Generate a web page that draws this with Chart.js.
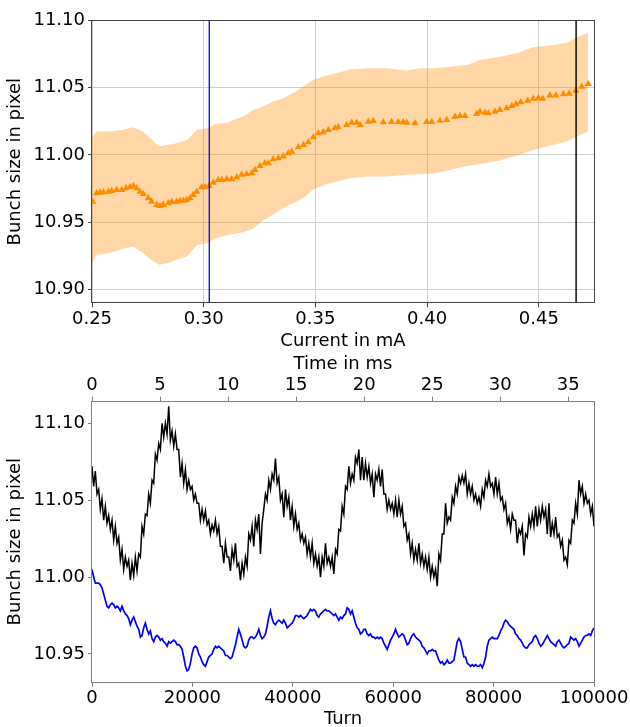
<!DOCTYPE html>
<html>
<head>
<meta charset="utf-8">
<script src="https://cdn.jsdelivr.net/npm/chart.js"></script>
<style>
  html, body { margin: 0; padding: 0; background: #fff; overflow: hidden; }
  #wrap { position: relative; width: 630px; height: 727px; overflow: hidden; }
  canvas { position: absolute; left: 0; }
  #topChart { top: 0; }
  #bottomChart { top: 352px; }
</style>
</head>
<body>
<div id="wrap">
  <canvas id="topChart" width="630" height="352"></canvas>
  <canvas id="bottomChart" width="630" height="390"></canvas>
</div>
<script>
/* ---------- top plot: bunch size vs current ---------- */
var meanCurrent = [0.2503,0.2521,0.2536,0.2551,0.2573,0.2588,0.2610,0.2633,0.2652,0.2670,0.2685,0.2700,0.2715,0.2730,0.2752,0.2767,0.2790,0.2804,0.2819,0.2842,0.2857,0.2879,0.2894,0.2909,0.2924,0.2939,0.2953,0.2969,0.2991,0.3006,0.3024,0.3043,0.3065,0.3081,0.3103,0.3125,0.3148,0.3170,0.3192,0.3215,0.3230,0.3252,0.3274,0.3289,
  0.3311,0.3334,0.3356,0.3379,0.3394,0.3423,0.3446,0.3468,0.3491,0.3513,0.3535,0.3558,0.3588,0.3602,0.3640,0.3662,0.3685,0.3700,0.3737,0.3759,0.3804,0.3841,0.3871,0.3893,0.3909,0.3946,0.3998,0.4021,
  0.4058,0.4088,0.4125,0.4147,0.4170,0.4222,0.4237,0.4259,0.4274,0.4304,0.4326,0.4356,0.4379,0.4398,0.4419,0.4450,0.4475,0.4498,0.4517,0.4550,0.4577,0.4610,0.4636,0.4666,0.4692,0.4721];
var meanSize = [10.9654,10.9716,10.9721,10.9724,10.9728,10.9733,10.9741,10.9741,10.9753,10.9761,10.9770,10.9753,10.9728,10.9711,10.9679,10.9654,10.9630,10.9622,10.9630,10.9642,10.9652,10.9654,10.9659,10.9661,10.9667,10.9679,10.9704,10.9728,10.9761,10.9761,10.9770,10.9795,10.9815,10.9815,10.9820,10.9820,10.9835,10.9854,10.9857,10.9864,10.9889,10.9918,10.9938,10.9938,
  10.9968,10.9976,10.9988,11.0013,11.0024,11.0057,11.0074,11.0094,11.0131,11.0161,11.0168,11.0185,11.0198,11.0205,11.0222,11.0239,11.0239,11.0222,11.0247,11.0252,11.0242,11.0245,11.0242,11.0242,11.0239,11.0235,11.0245,11.0245,
  11.0254,11.0259,11.0284,11.0289,11.0289,11.0304,11.0321,11.0313,11.0309,11.0321,11.0333,11.0346,11.0363,11.0376,11.0391,11.0402,11.0417,11.0420,11.0417,11.0442,11.0442,11.0450,11.0454,11.0476,11.0506,11.0526];

// spread band (upper / lower edge)
var bandCurrent = [0.2500,0.2522,0.2581,0.2634,0.2684,0.2728,0.2764,0.2800,0.2836,0.2880,0.2925,0.2970,0.3015,0.3051,0.3104,0.3140,0.3176,0.3221,0.3265,0.3310,0.3355,0.3400,0.3444,0.3489,0.3543,0.3597,0.3655,0.3731,0.3820,0.3910,0.3968,0.4026,0.4102,0.4179,0.4237,0.4326,0.4402,0.4474,0.4563,0.4626,0.4671,0.4720];
var bandUpper = [11.0136,11.0173,11.0173,11.0185,11.0205,11.0173,11.0119,11.0062,11.0074,11.0087,11.0111,11.0185,11.0198,11.0230,11.0239,11.0263,11.0284,11.0333,11.0358,11.0395,11.0420,11.0457,11.0506,11.0556,11.0585,11.0608,11.0634,11.0642,11.0642,11.0625,11.0642,11.0642,11.0654,11.0667,11.0704,11.0728,11.0754,11.0798,11.0815,11.0832,11.0872,11.0906];
var bandLower = [10.9197,10.9259,10.9272,10.9303,10.9321,10.9272,10.9222,10.9185,10.9197,10.9222,10.9246,10.9333,10.9346,10.9378,10.9407,10.9415,10.9426,10.9452,10.9511,10.9559,10.9604,10.9642,10.9679,10.9741,10.9778,10.9802,10.9827,10.9839,10.9839,10.9852,10.9856,10.9863,10.9889,10.9918,10.9933,10.9959,10.9996,11.0037,11.0074,11.0099,11.0136,11.0173];

var blueMarkCurrent = 0.3025;
var blackMarkCurrent = 0.4667;

var topXMin = 0.25, topXMax = 0.4747;
var topYMin = 10.89, topYMax = 11.10;
var topXTicks = [0.25, 0.30, 0.35, 0.40, 0.45];
var topYTicks = [10.90, 10.95, 11.00, 11.05, 11.10];

/* ---------- bottom plot: bunch size vs turn ---------- */
var turnMax = 100000;
var msMax = 36.89;
var turnTicks = [0, 20000, 40000, 60000, 80000, 100000];
var msTicks = [0, 5, 10, 15, 20, 25, 30, 35];
var botYMin = 10.9313, botYMax = 11.1147;
var botYTicks = [10.95, 11.00, 11.05, 11.10];

var blackSize = [
  11.072,11.059,11.069,11.054,11.057,11.044,11.051,11.037,11.046,11.035,
  11.040,11.031,11.037,11.024,11.033,11.022,11.026,11.011,11.018,11.005,
  11.013,11.007,11.011,10.998,11.009,11.001,11.013,11.004,11.015,11.013,
  11.033,11.028,11.041,11.040,11.054,11.048,11.063,11.061,11.080,11.076,
  11.087,11.083,11.100,11.091,11.100,11.093,11.111,11.089,11.095,11.085,
  11.093,11.083,11.083,11.065,11.074,11.061,11.070,11.057,11.063,11.057,
  11.059,11.050,11.054,11.048,11.048,11.037,11.044,11.037,11.043,11.034,
  11.037,11.028,11.034,11.030,
  11.037,11.028,11.033,11.020,11.020,11.009,11.022,11.013,11.013,11.004,
  11.018,11.011,11.022,11.007,11.009,10.998,11.009,11.002,11.013,11.007,
  11.028,11.024,11.033,11.020,11.037,11.031,11.041,11.015,11.035,11.044,
  11.054,11.050,11.063,11.057,11.067,11.063,11.077,11.061,11.065,11.050,
  11.054,11.039,11.057,11.046,11.052,11.037,11.046,11.033,11.041,11.031,
  11.035,11.024,11.028,11.022,11.026,11.015,11.022,11.013,11.022,11.009,
  11.015,11.007,11.013,11.000,11.013,11.007,11.022,11.009,11.013,11.007,
  11.013,11.002,11.018,11.015,11.031,
  11.030,11.046,11.041,11.059,11.057,11.072,11.061,11.067,11.063,11.078,
  11.074,11.083,11.063,11.078,11.063,11.074,11.065,11.072,11.061,11.067,
  11.052,11.067,11.063,11.070,11.059,11.070,11.054,11.054,11.044,11.050,
  11.044,11.048,11.041,11.050,11.039,11.050,11.041,11.046,11.033,11.035,
  11.024,11.028,11.015,11.022,11.011,11.018,11.011,11.022,11.009,11.015,
  11.007,11.013,11.005,11.013,11.000,11.007,11.000,11.005,10.994,11.015,
  11.011,11.028,11.028,11.048,11.035,11.039,11.037,11.052,11.048,11.059,
  11.054,11.065,11.061,11.066,11.061,
  11.067,11.054,11.061,11.054,11.059,11.050,11.054,11.048,11.052,11.046,
  11.057,11.052,11.063,11.059,11.067,11.059,11.061,11.054,11.065,11.054,
  11.061,11.050,11.052,11.044,11.048,11.035,11.039,11.031,11.041,11.037,
  11.037,11.022,11.031,11.028,11.033,11.014,11.028,11.026,11.039,11.033,
  11.041,11.033,11.046,11.033,11.044,11.037,11.046,11.039,11.044,11.028,
  11.048,11.026,11.035,11.028,11.039,11.026,11.028,11.020,11.024,11.011,
  11.013,11.008,11.024,11.022,11.037,11.035,11.048,11.041,11.063,11.054,
  11.059,11.048,11.054,11.048,11.050,11.041,11.046,11.033];

var blueSize = [
  11.005,11.000,10.996,10.996,10.996,10.995,10.993,10.989,10.985,10.981,
  10.980,10.982,10.983,10.982,10.980,10.981,10.980,10.978,10.981,10.978,
  10.976,10.975,10.973,10.969,10.972,10.974,10.971,10.968,10.966,10.961,
  10.962,10.967,10.970,10.966,10.963,10.965,10.960,10.958,10.961,10.962,
  10.961,10.959,10.960,10.958,10.957,10.955,10.958,10.957,10.958,10.959,
  10.958,10.956,10.956,10.955,10.953,10.948,10.942,10.939,10.940,10.944,
  10.950,10.954,10.955,10.954,10.950,10.948,10.945,10.943,10.942,10.945,
  10.948,10.949,10.950,10.953,
  10.955,10.954,10.955,10.954,10.953,10.952,10.949,10.949,10.948,10.947,
  10.948,10.952,10.956,10.961,10.966,10.963,10.959,10.955,10.954,10.955,
  10.959,10.961,10.961,10.960,10.961,10.963,10.966,10.962,10.960,10.961,
  10.963,10.968,10.974,10.978,10.973,10.970,10.969,10.971,10.972,10.971,
  10.970,10.972,10.970,10.967,10.968,10.969,10.970,10.972,10.975,10.975,
  10.974,10.975,10.974,10.973,10.974,10.975,10.977,10.979,10.978,10.979,
  10.978,10.975,10.974,10.976,10.977,10.978,10.979,10.978,10.978,10.977,
  10.976,10.975,10.976,10.974,10.972,
  10.974,10.973,10.975,10.976,10.980,10.979,10.976,10.978,10.974,10.970,
  10.967,10.966,10.963,10.964,10.966,10.966,10.963,10.962,10.963,10.961,
  10.961,10.960,10.961,10.960,10.961,10.960,10.957,10.955,10.953,10.956,
  10.959,10.961,10.963,10.966,10.963,10.961,10.962,10.963,10.962,10.959,
  10.956,10.957,10.960,10.962,10.963,10.961,10.960,10.959,10.958,10.955,
  10.954,10.952,10.950,10.952,10.952,10.953,10.952,10.952,10.949,10.946,
  10.944,10.945,10.943,10.944,10.946,10.944,10.944,10.945,10.946,10.952,
  10.958,10.960,10.958,10.953,10.948,
  10.948,10.944,10.943,10.942,10.943,10.942,10.943,10.942,10.942,10.943,
  10.941,10.944,10.948,10.955,10.959,10.960,10.961,10.960,10.960,10.960,
  10.962,10.965,10.967,10.970,10.972,10.971,10.969,10.968,10.967,10.966,
  10.963,10.962,10.960,10.959,10.957,10.955,10.954,10.954,10.956,10.957,
  10.958,10.961,10.962,10.960,10.957,10.955,10.956,10.958,10.960,10.962,
  10.960,10.958,10.957,10.956,10.955,10.958,10.959,10.957,10.955,10.954,
  10.955,10.956,10.957,10.961,10.960,10.959,10.960,10.958,10.955,10.957,
  10.959,10.961,10.962,10.962,10.963,10.962,10.965,10.967];

Chart.defaults.font.family = "'DejaVu Sans', sans-serif";
Chart.defaults.font.size = 18;
Chart.defaults.color = '#000';
Chart.defaults.animation = false;

// matplotlib-like box around the plot area
var framePlugin = {
  id: 'frame',
  afterDraw: function (chart, args, opts) {
    var a = chart.chartArea, ctx = chart.ctx;
    ctx.save();
    ctx.strokeStyle = opts.color || '#444';
    ctx.lineWidth = 1;
    ctx.strokeRect(Math.round(a.left) - 0.5, Math.round(a.top) + 0.5,
                   Math.round(a.right - a.left) + 1, Math.round(a.bottom - a.top) - 1);
    ctx.restore();
  }
};

function pairs(xs, ys) {
  var out = [];
  for (var i = 0; i < ys.length; i++) out.push({x: xs[i], y: ys[i]});
  return out;
}
function turnSeries(ys) {
  var out = [];
  for (var i = 0; i < ys.length; i++) out.push({x: i * turnMax / (ys.length - 1), y: ys[i]});
  return out;
}
function fixedTicks(list) {
  return function (scale) { scale.ticks = list.map(function (v) { return {value: v}; }); };
}

var bandColor = 'rgba(255,140,0,0.35)';
var gridColor = '#cfcfcf';

new Chart(document.getElementById('topChart'), {
  type: 'scatter',
  data: {
    datasets: [
      {
        type: 'line', label: 'upper', data: pairs(bandCurrent, bandUpper),
        borderColor: 'transparent', borderWidth: 0, pointRadius: 0,
        backgroundColor: bandColor, fill: '+1', order: 3
      },
      {
        type: 'line', label: 'lower', data: pairs(bandCurrent, bandLower),
        borderColor: 'transparent', borderWidth: 0, pointRadius: 0, fill: false, order: 3
      },
      {
        label: 'mean', data: pairs(meanCurrent, meanSize),
        pointStyle: 'triangle', pointRadius: 4.2,
        backgroundColor: '#ff8c00', borderColor: '#ff8c00', borderWidth: 0, order: 2
      },
      {
        type: 'line', label: 'blue mark',
        data: [{x: blueMarkCurrent, y: topYMin}, {x: blueMarkCurrent, y: topYMax}],
        borderColor: '#0000ff', borderWidth: 1.3, pointRadius: 0, order: 1
      },
      {
        type: 'line', label: 'black mark',
        data: [{x: blackMarkCurrent, y: topYMin}, {x: blackMarkCurrent, y: topYMax}],
        borderColor: 'rgba(0,0,0,0.8)', borderWidth: 1.8, pointRadius: 0, order: 1
      }
    ]
  },
  options: {
    responsive: false,
    layout: { padding: {left: 0, right: 36, top: 20, bottom: 0} },
    plugins: { legend: {display: false}, tooltip: {enabled: false}, frame: {color: '#444'} },
    scales: {
      x: {
        type: 'linear', min: topXMin, max: topXMax,
        afterFit: function (s) { s.height = 48.7; },
        afterBuildTicks: fixedTicks(topXTicks),
        ticks: { callback: function (v) { return v.toFixed(2); }, padding: 1, maxRotation: 0 },
        grid: { color: gridColor, tickColor: '#444', tickLength: 4 },
        border: { display: false },
        title: { display: true, text: 'Current in mA', padding: {top: 0, bottom: 0} }
      },
      y: {
        min: topYMin, max: topYMax,
        afterFit: function (s) { s.width = 92; },
        afterBuildTicks: fixedTicks(topYTicks),
        ticks: { callback: function (v) { return v.toFixed(2); }, padding: 3 },
        grid: { color: gridColor, tickColor: '#444', tickLength: 4 },
        border: { display: false },
        title: { display: true, text: 'Bunch size in pixel', padding: {top: 5, bottom: 0} }
      }
    }
  },
  plugins: [framePlugin]
});

new Chart(document.getElementById('bottomChart'), {
  type: 'line',
  data: {
    datasets: [
      {
        label: 'black', data: turnSeries(blackSize),
        borderColor: '#000', borderWidth: 1.5, pointRadius: 0, tension: 0
      },
      {
        label: 'blue', data: turnSeries(blueSize),
        borderColor: '#0000ff', borderWidth: 1.7, pointRadius: 0, tension: 0
      }
    ]
  },
  options: {
    responsive: false,
    layout: { padding: {left: 0, right: 36, top: 0, bottom: 0} },
    plugins: { legend: {display: false}, tooltip: {enabled: false}, frame: {color: '#808080'} },
    scales: {
      x: {
        type: 'linear', position: 'bottom', min: 0, max: turnMax,
        afterFit: function (s) { s.height = 59.3; },
        afterBuildTicks: fixedTicks(turnTicks),
        ticks: { callback: function (v) { return String(v); }, padding: 1, maxRotation: 0 },
        grid: { drawOnChartArea: false, color: '#808080', tickLength: 4 },
        border: { display: false },
        title: { display: true, text: 'Turn', padding: {top: 0, bottom: 12} }
      },
      x2: {
        type: 'linear', position: 'top', min: 0, max: msMax,
        afterFit: function (s) { s.height = 48.7; },
        afterBuildTicks: fixedTicks(msTicks),
        ticks: { callback: function (v) { return String(v); }, padding: 1, maxRotation: 0 },
        grid: { drawOnChartArea: false, color: '#808080', tickLength: 4 },
        border: { display: false },
        title: { display: true, text: 'Time in ms', padding: {top: 2, bottom: 0} }
      },
      y: {
        min: botYMin, max: botYMax,
        afterFit: function (s) { s.width = 92; },
        afterBuildTicks: fixedTicks(botYTicks),
        ticks: { callback: function (v) { return v.toFixed(2); }, padding: 3 },
        grid: { drawOnChartArea: false, color: '#808080', tickLength: 4 },
        border: { display: false },
        title: { display: true, text: 'Bunch size in pixel', padding: {top: 5, bottom: 0} }
      }
    }
  },
  plugins: [framePlugin]
});
</script>
</body>
</html>
